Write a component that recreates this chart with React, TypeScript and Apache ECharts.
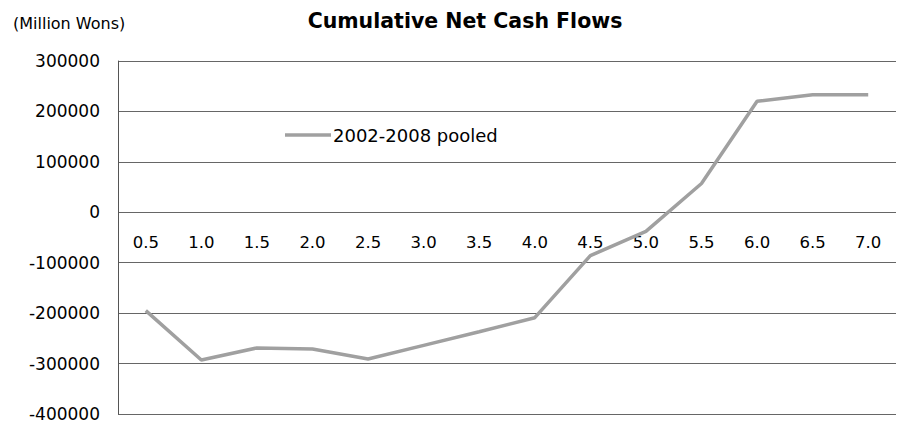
import React, { useEffect, useRef } from "react";
import * as echarts from "echarts";

const categories = ["0.5", "1.0", "1.5", "2.0", "2.5", "3.0", "3.5", "4.0", "4.5", "5.0", "5.5", "6.0", "6.5", "7.0"];
const pooledValues = [-195000, -293000, -269000, -271000, -291000, -264000, -237000, -209000, -86000, -38000, 57000, 220000, 233000, 233000];
const seriesName = "2002-2008 pooled";
const titleText = "Cumulative Net Cash Flows";
const unitText = "(Million Wons)";

const FONT = "'DejaVu Sans', sans-serif";
const LINE_COLOR = "#a0a0a0";

export default function App() {
  const ref = useRef<HTMLDivElement>(null);
  useEffect(() => {
    if (!ref.current) return;
    const chart = echarts.init(ref.current, undefined, { renderer: "svg" });
    chart.setOption({
      animation: false,
      backgroundColor: "#ffffff",
      title: [
        {
          text: titleText,
          left: 460,
          top: 5,
          textAlign: "center",
          textStyle: { fontFamily: FONT, fontSize: 20.5, fontWeight: "bold", color: "#000" },
        },
        {
          text: unitText,
          left: 8,
          top: 10,
          textStyle: { fontFamily: FONT, fontSize: 16, fontWeight: "normal", color: "#000" },
        },
      ],
      graphic: [
        {
          type: "line",
          shape: { x1: 285, y1: 135, x2: 331, y2: 135 },
          style: { stroke: LINE_COLOR, lineWidth: 3.5 },
        },
        {
          type: "text",
          x: 333,
          y: 135,
          style: {
            text: seriesName,
            fontFamily: FONT,
            fontSize: 18,
            fill: "#000",
            verticalAlign: "middle",
          },
        },
      ],
      grid: { left: 118, right: 1, top: 61, bottom: 9, containLabel: false, outerBoundsMode: "none" },
      xAxis: {
        type: "category",
        data: categories,
        boundaryGap: true,
        offset: -201,
        axisLine: { show: false, onZero: false },
        axisTick: { show: false },
        axisLabel: { fontFamily: FONT, fontSize: 16.5, color: "#000", margin: 21, interval: 0 },
      },
      yAxis: {
        type: "value",
        min: -400000,
        max: 300000,
        interval: 100000,
        axisLine: { show: true, lineStyle: { color: "#555", width: 1 } },
        axisTick: { show: false },
        axisLabel: {
          fontFamily: FONT,
          fontSize: 17,
          color: "#000",
          margin: 18,
          formatter: (v: number) => String(v),
        },
        splitLine: { show: true, lineStyle: { color: "#666", width: 1 } },
      },
      series: [
        {
          name: seriesName,
          type: "line",
          data: pooledValues,
          symbol: "none",
          lineStyle: { color: LINE_COLOR, width: 3.5 },
          itemStyle: { color: LINE_COLOR },
        },
      ],
    });
    return () => chart.dispose();
  }, []);
  return <div ref={ref} style={{ position: "fixed", left: 0, top: 0, width: 897, height: 423 }} />;
}
